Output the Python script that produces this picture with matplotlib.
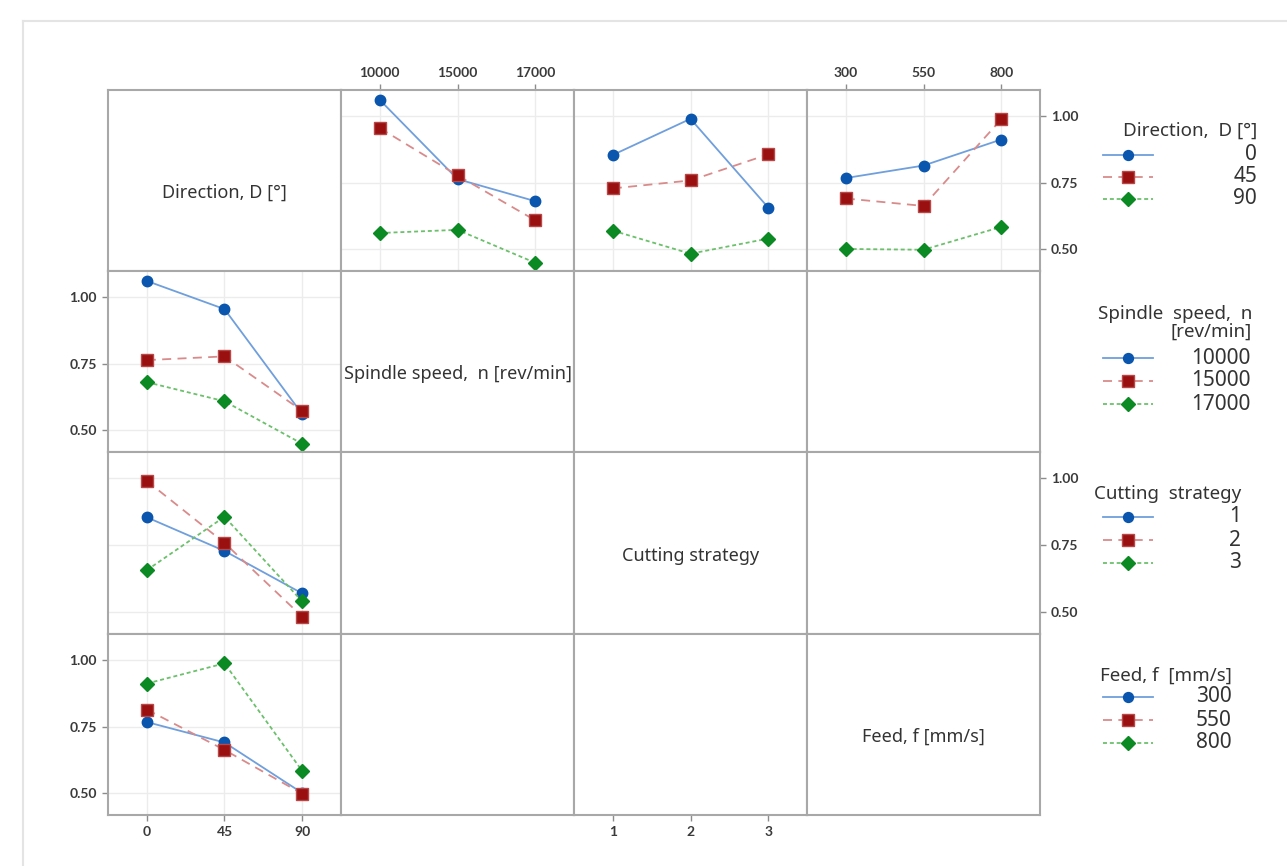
import numpy as np
import matplotlib.pyplot as plt
from matplotlib.lines import Line2D

plt.rcParams['font.family'] = ['Noto Sans', 'DejaVu Sans']

W, H = 1287, 866

direction = ["0", "45", "90"]
spindle = ["10000", "15000", "17000"]
strategy = ["1", "2", "3"]
feed = ["300", "550", "800"]

# mean response, rows = direction (0, 45, 90), cols = levels of the other factor
resp_spindle = np.array([[1.061, 0.763, 0.680],
                         [0.955, 0.777, 0.608],
                         [0.560, 0.572, 0.448]])
resp_strategy = np.array([[0.854, 0.990, 0.656],
                          [0.728, 0.758, 0.856],
                          [0.569, 0.482, 0.539]])
resp_feed = np.array([[0.767, 0.814, 0.912],
                      [0.690, 0.662, 0.988],
                      [0.500, 0.497, 0.583]])

factor_names = ["Direction, D [°]", "Spindle speed,  n [rev/min]",
                "Cutting strategy", "Feed, f [mm/s]"]
yticks = [0.50, 0.75, 1.00]
ytick_labels = ["0.50", "0.75", "1.00"]

styles = [
    dict(color="#6f9fdc", ls="-", marker="o", mfc="#0a55ad", mec="#0a55ad", ms=7.5),
    dict(color="#d98b8b", ls=(0, (5, 3.5)), marker="s", mfc="#9a0f0f", mec="#b84848", ms=9),
    dict(color="#6cc06c", ls=(0, (2.2, 1.6)), marker="D", mfc="#0b8a23", mec="#0b8a23", ms=7),
]
tick_kw = dict(family=["Lato", "DejaVu Sans"], fontweight="bold", fontsize=10, color="#3a3a3a")

fig = plt.figure(figsize=(W / 100, H / 100), dpi=100)

# faint outer frame of the screenshot
fig.add_artist(Line2D([23 / W, 1], [1 - 21 / H, 1 - 21 / H], color="#e4e4e4", lw=1.5))
fig.add_artist(Line2D([23 / W, 23 / W], [1 - 21 / H, 0], color="#e4e4e4", lw=1.5))

xe = [108, 341, 574, 807, 1040]
ye = [90, 271, 452, 634, 815]

axes = [[None] * 4 for _ in range(4)]
for r in range(4):
    for c in range(4):
        ax = fig.add_axes([xe[c] / W, 1 - ye[r + 1] / H,
                           (xe[c + 1] - xe[c]) / W, (ye[r + 1] - ye[r]) / H])
        ax.set_xlim(-0.5, 2.5)
        ax.set_ylim(0.417, 1.0985)
        ax.set_xticks([0, 1, 2])
        ax.set_yticks(yticks)
        ax.tick_params(which="both", left=False, right=False, top=False, bottom=False,
                       labelleft=False, labelright=False, labeltop=False, labelbottom=False,
                       length=4, width=1, color="#8c8c8c", pad=4)
        for s in ax.spines.values():
            s.set_color("#a8a8a8")
            s.set_linewidth(1.5)
        axes[r][c] = ax

# first row: response vs column factor, one line per direction
others = [(spindle, resp_spindle), (strategy, resp_strategy), (feed, resp_feed)]
for c, (levels, resp) in enumerate(others, start=1):
    ax = axes[0][c]
    ax.grid(True, color="#ececec", lw=1)
    ax.set_axisbelow(True)
    for i in range(3):
        ax.plot(range(3), resp[i], lw=1.3, **styles[i])

# first column: response vs direction, one line per level of the row factor
for r, (levels, resp) in enumerate(others, start=1):
    ax = axes[r][0]
    ax.grid(True, color="#ececec", lw=1)
    ax.set_axisbelow(True)
    for j in range(3):
        ax.plot(range(3), resp[:, j], lw=1.3, **styles[j])

# diagonal: factor names
for k in range(4):
    axes[k][k].text(0.5, 0.43, factor_names[k], transform=axes[k][k].transAxes,
                    ha="center", va="center", fontsize=13, color="#333333")

# tick labels around the matrix
axes[0][1].tick_params(top=True, labeltop=True)
axes[0][1].set_xticklabels(spindle, **tick_kw)
axes[0][3].tick_params(top=True, labeltop=True)
axes[0][3].set_xticklabels(feed, **tick_kw)
axes[3][0].tick_params(bottom=True, labelbottom=True)
axes[3][0].set_xticklabels(direction, **tick_kw)
axes[3][2].tick_params(bottom=True, labelbottom=True)
axes[3][2].set_xticklabels(strategy, **tick_kw)
for r in (0, 2):
    axes[r][3].tick_params(right=True, labelright=True)
    axes[r][3].set_yticklabels(ytick_labels, **tick_kw)
for r in (1, 3):
    axes[r][0].tick_params(left=True, labelleft=True)
    axes[r][0].set_yticklabels(ytick_labels, **tick_kw)

# legends on the right
def draw_legend(title, title_y, title_right, labels, entry_y, label_right):
    fig.text(title_right / W, 1 - title_y / H, title, ha="right", va="center",
             fontsize=13.5, color="#333333", linespacing=1.0)
    for k, (lab, y) in enumerate(zip(labels, entry_y)):
        st = styles[k]
        fig.add_artist(Line2D([1103 / W, 1153 / W], [1 - y / H, 1 - y / H], lw=1.3,
                              color=st["color"], ls=st["ls"]))
        fig.add_artist(Line2D([1128 / W], [1 - y / H], lw=0, marker=st["marker"],
                              mfc=st["mfc"], mec=st["mec"], ms=st["ms"] * 0.95))
        fig.text(label_right / W, 1 - y / H, lab, ha="right", va="center",
                 fontsize=15, color="#333333")

draw_legend("Direction,  D [°]", 131, 1257, direction, [155, 177, 199], 1257)
draw_legend("Spindle  speed,  n\n[rev/min]", 323, 1252, spindle, [358, 381, 404], 1251)
draw_legend("Cutting  strategy", 494, 1241, strategy, [517, 540, 563], 1241)
draw_legend("Feed, f  [mm/s]", 676, 1232, feed, [697, 720, 743], 1232)

fig.savefig("out.png", dpi=100, facecolor="white")
